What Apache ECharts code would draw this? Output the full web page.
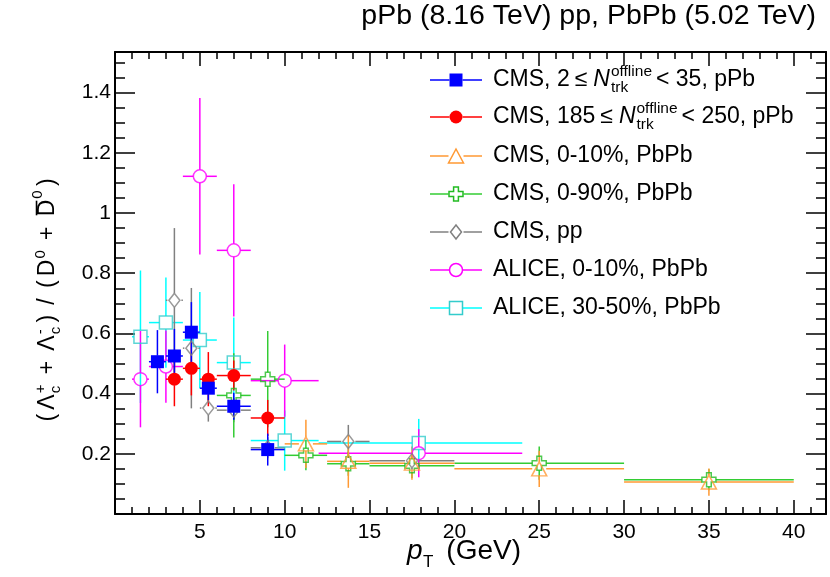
<!DOCTYPE html>
<html><head><meta charset="utf-8">
<script src="https://cdn.jsdelivr.net/npm/echarts@6/dist/echarts.min.js"></script>
<style>html,body{margin:0;padding:0;background:#fff}#c{width:830px;height:577px}</style>
</head><body><div id="c"></div>
<script>
// ---------------- data ----------------
const xTickLabels = ['5','10','15','20','25','30','35','40'];
const yTickLabels = ['0.2','0.4','0.6','0.8','1','1.2','1.4'];

// CMS, 2 <= N < 35, pPb
const cmsLowX   = [2.5, 3.5, 4.5, 5.5, 7, 9];
const cmsLowXLo = [2, 3, 4, 5, 6, 8];
const cmsLowXHi = [3, 4, 5, 6, 8, 10];
const cmsLowY   = [0.506, 0.525, 0.604, 0.418, 0.358, 0.214];
const cmsLowErr = [0.105, 0.09, 0.1, 0.04, 0.045, 0.053];
// CMS, 185 <= N < 250, pPb
const cmsHighX   = [3.5, 4.5, 5.5, 7, 9];
const cmsHighXLo = [3, 4, 5, 6, 8];
const cmsHighXHi = [4, 5, 6, 8, 10];
const cmsHighY   = [0.448, 0.484, 0.448, 0.460, 0.319];
const cmsHighErr = [0.09, 0.09, 0.09, 0.05, 0.06];
// CMS, 0-10%, PbPb
const cmsCentX   = [11.25, 13.75, 17.5, 25, 35];
const cmsCentXLo = [10, 12.5, 15, 20, 30];
const cmsCentXHi = [12.5, 15, 20, 30, 40];
const cmsCentY   = [0.233, 0.175, 0.169, 0.150, 0.106];
const cmsCentErr = [0.08, 0.088, 0.055, 0.06, 0.045];
// CMS, 0-90%, PbPb
const cmsMbX   = [7, 9, 11.25, 13.75, 17.5, 25, 35];
const cmsMbXLo = [6, 8, 10, 12.5, 15, 20, 30];
const cmsMbXHi = [8, 10, 12.5, 15, 20, 30, 40];
const cmsMbY   = [0.394, 0.448, 0.195, 0.167, 0.160, 0.169, 0.114];
const cmsMbErr = [0.14, 0.16, 0.05, 0.04, 0.04, 0.055, 0.035];
// CMS, pp
const cmsPpX   = [3.5, 4.5, 5.5, 7, 9, 13.75, 17.5];
const cmsPpXLo = [3, 4, 5, 6, 8, 12.5, 15];
const cmsPpXHi = [4, 5, 6, 8, 10, 15, 20];
const cmsPpY   = [0.71, 0.551, 0.352, 0.345, 0.22, 0.241, 0.177];
const cmsPpErr = [0.24, 0.2, 0.045, 0.04, 0.035, 0.055, 0.03];
// ALICE, 0-10%, PbPb
const aliceCentX   = [1.5, 3, 5, 7, 10, 17.9];
const aliceXLo     = [1, 2, 4, 6, 8, 12];
const aliceXHi     = [2, 4, 6, 8, 12, 24];
const aliceCentY   = [0.448, 0.49, 1.122, 0.876, 0.443, 0.202];
const aliceCentErr = [0.16, 0.12, 0.26, 0.22, 0.12, 0.08];
// ALICE, 30-50%, PbPb
const aliceSemiX   = [1.5, 3, 5, 7, 10, 17.9];
const aliceSemiY   = [0.589, 0.636, 0.578, 0.503, 0.244, 0.236];
const aliceSemiErr = [0.22, 0.15, 0.16, 0.15, 0.1, 0.08];

// ---------------- helpers ----------------
const FONT = '"Liberation Sans", Arial, sans-serif';
const mctx = document.createElement('canvas').getContext('2d');
function tw(t, size, italic) { mctx.font = (italic ? 'italic ' : '') + size + 'px ' + FONT; return mctx.measureText(t).width; }
function T(x, base, text, size, opt) {
  opt = opt || {};
  const al = opt.align || 'left';
  return { type: 'text', x: x, y: base - 0.35 * size, silent: true,
    style: { text: text, fontSize: size, fontFamily: FONT, fontStyle: opt.italic ? 'italic' : 'normal',
      fill: '#000', align: al, textAlign: al, verticalAlign: 'middle', textVerticalAlign: 'middle' } };
}
function build(x, xlo, xhi, y, err) {
  return x.map((v, i) => [v, y[i], xlo[i], xhi[i], y[i] - err[i], y[i] + err[i]]);
}
const CROSS = 'path://M-1,-3L1,-3L1,-1L3,-1L3,1L1,1L1,3L-1,3L-1,1L-3,1L-3,-1L-1,-1Z';

const sets = [
  { name: 'ALICE, 30-50%, PbPb', data: build(aliceSemiX, aliceXLo, aliceXHi, aliceSemiY, aliceSemiErr),
    line: '#00ffff', mc: '#33cccc', symbol: 'rect', size: 13, open: true, gap: 6.5, lg: 'rect' },
  { name: 'ALICE, 0-10%, PbPb', data: build(aliceCentX, aliceXLo, aliceXHi, aliceCentY, aliceCentErr),
    line: '#ff00ff', mc: '#ff00ff', symbol: 'circle', size: 13, open: true, gap: 6.5, lg: 'circle' },
  { name: 'CMS, pp', data: build(cmsPpX, cmsPpXLo, cmsPpXHi, cmsPpY, cmsPpErr),
    line: '#808080', mc: '#808080', symbol: 'diamond', size: [11, 14], open: true, gap: 7, lg: 'diamond' },
  { name: 'CMS, 0-90%, PbPb', data: build(cmsMbX, cmsMbXLo, cmsMbXHi, cmsMbY, cmsMbErr),
    line: '#33cc33', mc: '#22bb22', symbol: CROSS, size: 14, open: true, gap: 7, lg: 'cross' },
  { name: 'CMS, 0-10%, PbPb', data: build(cmsCentX, cmsCentXLo, cmsCentXHi, cmsCentY, cmsCentErr),
    line: '#ff9933', mc: '#ff9933', symbol: 'triangle', size: [15, 14], open: true, gap: 7, lg: 'triangle' },
  { name: 'CMS high', data: build(cmsHighX, cmsHighXLo, cmsHighXHi, cmsHighY, cmsHighErr),
    line: '#ff0000', mc: '#ff0000', symbol: 'circle', size: 13, open: false, gap: 6, lg: 'circle' },
  { name: 'CMS low', data: build(cmsLowX, cmsLowXLo, cmsLowXHi, cmsLowY, cmsLowErr),
    line: '#0000ff', mc: '#0000ff', symbol: 'rect', size: 13, open: false, gap: 6, lg: 'rect' }
];

function errRender(gap, color) {
  return function (params, api) {
    const x = api.value(0), y = api.value(1);
    const c = api.coord([x, y]);
    const xl = api.coord([api.value(2), y])[0];
    const xr = api.coord([api.value(3), y])[0];
    const yl = api.coord([x, api.value(4)])[1];
    const yh = api.coord([x, api.value(5)])[1];
    const st = { stroke: color, lineWidth: 1.5 };
    const ch = [];
    if (c[0] - gap > xl) ch.push({ type: 'line', shape: { x1: xl, y1: c[1], x2: c[0] - gap, y2: c[1] }, style: st });
    if (xr > c[0] + gap) ch.push({ type: 'line', shape: { x1: c[0] + gap, y1: c[1], x2: xr, y2: c[1] }, style: st });
    if (yl > c[1] + gap) ch.push({ type: 'line', shape: { x1: c[0], y1: c[1] + gap, x2: c[0], y2: yl }, style: st });
    if (c[1] - gap > yh) ch.push({ type: 'line', shape: { x1: c[0], y1: yh, x2: c[0], y2: c[1] - gap }, style: st });
    return { type: 'group', children: ch };
  };
}

const series = [];
sets.forEach(s => {
  series.push({ type: 'custom', name: s.name + ' err', renderItem: errRender(s.gap, s.line), data: s.data,
    encode: { x: 0, y: 1 }, silent: true, clip: true, z: 2 });
  series.push({ type: 'scatter', name: s.name, data: s.data.map(d => [d[0], d[1]]), symbol: s.symbol,
    symbolSize: s.size, silent: true, z: 3,
    itemStyle: s.open ? { color: 'rgba(255,255,255,0)', borderColor: s.mc, borderWidth: 1.5 }
                      : { color: s.mc, borderWidth: 0, opacity: 1 } });
});

// ---------------- axes ----------------
const XMAX = 41.9, YMAX = 1.535;
function fmt(list) { return v => { const s = String(Math.round(v * 1000) / 1000); return list.indexOf(s) >= 0 ? s : ''; }; }
const lineSt = { color: '#000', width: 2 };
function xa(pos, interval, len, labels, line) {
  return { type: 'value', min: 0, max: XMAX, interval: interval, position: pos,
    axisLine: { show: line, onZero: false, lineStyle: lineSt },
    axisTick: { show: true, inside: true, length: len, lineStyle: { color: '#000', width: 1.5 } },
    axisLabel: labels ? { show: true, formatter: fmt(xTickLabels), fontSize: 21, fontFamily: FONT, color: '#000', margin: 8 } : { show: false },
    splitLine: { show: false } };
}
function ya(pos, interval, len, labels, line) {
  return { type: 'value', min: 0, max: YMAX, interval: interval, position: pos,
    axisLine: { show: line, onZero: false, lineStyle: lineSt },
    axisTick: { show: true, inside: true, length: len, lineStyle: { color: '#000', width: 1.5 } },
    axisLabel: labels ? { show: true, formatter: fmt(yTickLabels), fontSize: 21, fontFamily: FONT, color: '#000', margin: 4 } : { show: false },
    splitLine: { show: false } };
}

// ---------------- graphic texts / legend ----------------
const graphics = [];
// title
graphics.push(T(816, 26.5, 'pPb (8.16 TeV) pp, PbPb (5.02 TeV)', 28.5, { align: 'right' }));

// x-axis title
(function () {
  const F = 28, S = 17, base = 561;
  const right = 521;
  const wG = tw('(GeV)', F);
  const wp = tw('p', F, true);
  const xp = 407;
  graphics.push(T(xp, base, 'p', F, { italic: true }));
  graphics.push(T(xp + wp + 0.5, base + 7, 'T', S));
  graphics.push(T(right - wG, base, '(GeV)', F));
})();

// y-axis title (rotated group)
(function () {
  const F = 23, S = 15;
  const parts = [];
  let u = 0;
  const pieces = [];
  function main(t) { pieces.push({ kind: 'm', t: t }); }
  function scripts(sup, sub, supOff) { pieces.push({ kind: 's', sup: sup, sub: sub, supOff: supOff }); }
  main('('); main('Λ'); scripts('+', 'c'); main('+'); main('Λ'); scripts('-', 'c'); main(')');
  main('/'); main('('); main('D'); scripts('0', null); main('+'); main('D̄'); scripts('0', null, 3); main(')');
  const widths = pieces.map(p => p.kind === 'm' ? tw(p.t === 'D̄' ? 'D' : p.t, F) :
    Math.max(p.sup ? tw(p.sup, S) : 0, p.sub ? tw(p.sub, S) : 0));
  const total = widths.reduce((a, b) => a + b, 0);
  const L = 256;
  const spaceOps = pieces.map(p => p.kind === 'm' && (p.t === '+' || p.t === '/') ? 1 : 0);
  const nG = pieces.length - 1;
  const nO = spaceOps.reduce((a, b) => a + b, 0);
  const opGap = 6;
  const g = Math.max(1, (L - total - nO * 2 * opGap) / nG);
  pieces.forEach((p, i) => {
    if (i > 0) u += (p.kind === 's' ? 1 : g);
    if (spaceOps[i]) u += opGap;
    if (p.kind === 'm') {
      if (p.t === 'D̄') {
        parts.push(T(u, 0, 'D', F));
        const cap = 0.716 * F;
        parts.push({ type: 'line', shape: { x1: u + 1, y1: -cap - 3, x2: u + widths[i] - 1, y2: -cap - 3 }, style: { stroke: '#000', lineWidth: 1.6 } });
      } else parts.push(T(u, 0, p.t, F));
    } else {
      if (p.sup) parts.push(T(u, -0.42 * F - (p.supOff || 0), p.sup, S));
      if (p.sub) parts.push(T(u, 0.24 * F, p.sub, S));
    }
    u += widths[i];
    if (spaceOps[i]) u += opGap;
  });
  graphics.push({ type: 'group', x: 56, y: 300 + u / 2, rotation: Math.PI / 2, children: parts, silent: true });
})();

// legend
(function () {
  const rows = [80, 117, 156, 194, 232, 270, 308];
  const order = [6, 5, 4, 3, 2, 1, 0];
  const F = 23, S = 15.5;
  const xl1 = 430, xl2 = 482, xm = 456, xt = 493;
  order.forEach((si, r) => {
    const s = sets[si], y = rows[r];
    const gp = s.gap + 0.5;
    graphics.push({ type: 'line', shape: { x1: xl1, y1: y, x2: xm - gp, y2: y }, style: { stroke: s.line, lineWidth: 1.5 }, silent: true });
    graphics.push({ type: 'line', shape: { x1: xm + gp, y1: y, x2: xl2, y2: y }, style: { stroke: s.line, lineWidth: 1.5 }, silent: true });
    const st = s.open ? { fill: 'none', stroke: s.mc, lineWidth: 1.5 } : { fill: s.mc, stroke: null };
    let el;
    if (s.lg === 'rect') el = { type: 'rect', shape: { x: xm - 6.5, y: y - 6.5, width: 13, height: 13 }, style: st };
    else if (s.lg === 'circle') el = { type: 'circle', shape: { cx: xm, cy: y, r: 6.5 }, style: st };
    else if (s.lg === 'triangle') el = { type: 'polygon', shape: { points: [[xm, y - 7], [xm + 7.5, y + 7], [xm - 7.5, y + 7]] }, style: st };
    else if (s.lg === 'diamond') el = { type: 'polygon', shape: { points: [[xm, y - 7], [xm + 5.5, y], [xm, y + 7], [xm - 5.5, y]] }, style: st };
    else {
      const a = 7, b = 2.4;
      el = { type: 'polygon', shape: { points: [[xm - b, y - a], [xm + b, y - a], [xm + b, y - b], [xm + a, y - b], [xm + a, y + b], [xm + b, y + b], [xm + b, y + a], [xm - b, y + a], [xm - b, y + b], [xm - a, y + b], [xm - a, y - b], [xm - b, y - b]] }, style: st };
    }
    el.silent = true;
    graphics.push(el);
    const base = y + 8;
    if (r < 2) {
      const pre = r === 0 ? 'CMS, 2' : 'CMS, 185';
      const num = r === 0 ? '35, pPb' : '250, pPb';
      let u = xt;
      graphics.push(T(u, base, pre, F)); u += tw(pre, F) + 5;
      graphics.push(T(u, base, '≤', F)); u += tw('≤', F) + 6;
      graphics.push(T(u, base, 'N', F, { italic: true })); u += tw('N', F, true) + 1;
      graphics.push(T(u, base - 10.5, 'offline', S));
      graphics.push(T(u, base + 5.5, 'trk', S));
      u += Math.max(tw('offline', S), tw('trk', S)) + 4;
      graphics.push(T(u, base, '<', F)); u += tw('< ', F);
      graphics.push(T(u, base, num, F));
    } else {
      graphics.push(T(xt, base, s.name, F));
    }
  });
})();

const chart = echarts.init(document.getElementById('c'), null, { renderer: 'canvas' });
chart.setOption({
  animation: false,
  backgroundColor: '#fff',
  grid: { left: 115, right: 4, top: 52, bottom: 63, containLabel: false, outerBoundsMode: 'none' },
  xAxis: [xa('bottom', 5, 14, true, true), xa('bottom', 1, 7, false, false), xa('top', 5, 14, false, true), xa('top', 1, 7, false, false)],
  yAxis: [ya('left', 0.2, 20, true, true), ya('left', 0.05, 10, false, false), ya('right', 0.2, 20, false, true), ya('right', 0.05, 10, false, false)],
  series: series,
  graphic: graphics
});
</script></body></html>
